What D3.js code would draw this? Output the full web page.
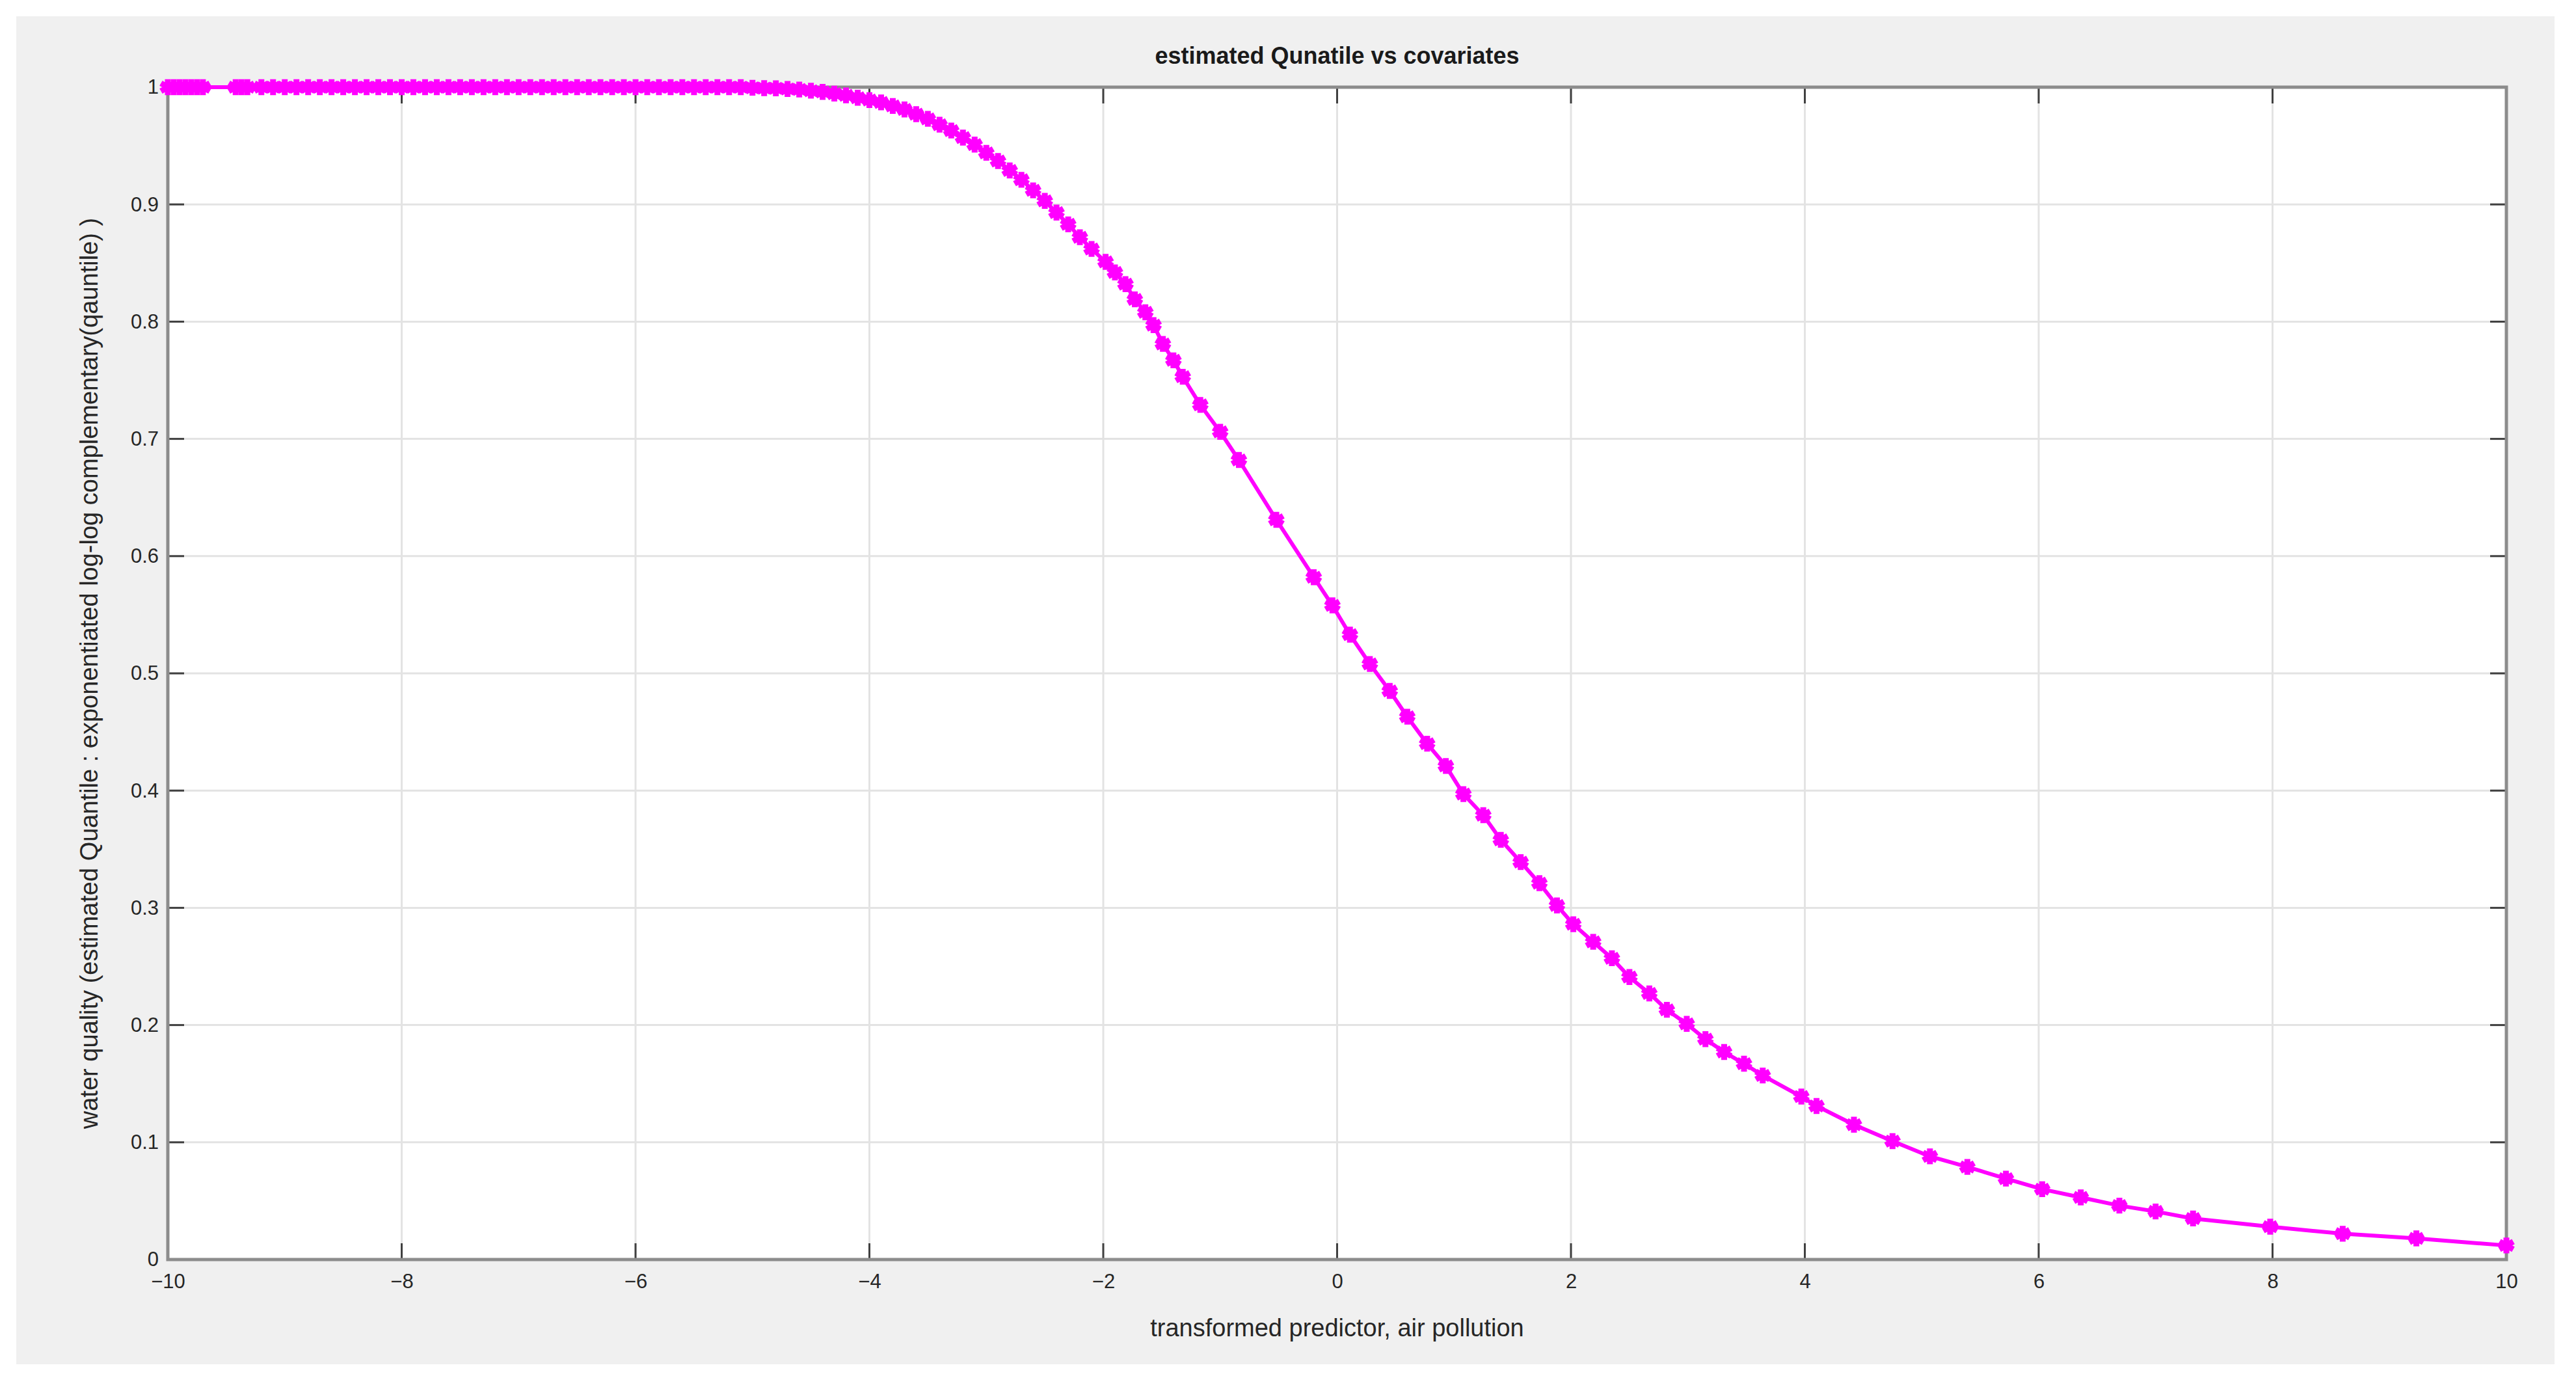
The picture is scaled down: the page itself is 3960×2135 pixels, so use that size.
<!DOCTYPE html>
<html><head><meta charset="utf-8">
<script src="https://cdn.jsdelivr.net/npm/d3@7"></script>
<style>body{margin:0;background:#fff}</style></head>
<body><svg id="c" width="3960" height="2135"></svg>
<script>
const xTicks=[-10,-8,-6,-4,-2,0,2,4,6,8,10];
const yTicks=[0,0.1,0.2,0.3,0.4,0.5,0.6,0.7,0.8,0.9,1];
const xFlat=[-10,-9.95,-9.9,-9.85,-9.8,-9.75,-9.7,-9.42,-9.37,-9.32,-9.2,-9.1,-9,-8.9,-8.8,-8.7,-8.6,-8.5,-8.4,-8.3,-8.2,-8.1,-8,-7.9,-7.8,-7.7,-7.6,-7.5,-7.4,-7.3,-7.2,-7.1,-7,-6.9,-6.8,-6.7,-6.6,-6.5,-6.4,-6.3,-6.2,-6.1,-6,-5.9,-5.8,-5.7,-5.6,-5.5,-5.4,-5.3,-5.2,-5.1];
const yFlat=xFlat.map(()=>1);
const xCurve=[-5,-4.9,-4.8,-4.7,-4.6,-4.5,-4.4,-4.3,-4.2,-4.1,-4,-3.9,-3.8,-3.7,-3.6,-3.5,-3.4,-3.3,-3.2,-3.1,-3,-2.9,-2.8,-2.7,-2.6,-2.5,-2.4,-2.3,-2.2,-2.1,-1.98,-1.9,-1.81,-1.73,-1.64,-1.57,-1.49,-1.4,-1.32,-1.17,-1.0,-0.84,-0.52,-0.2,-0.04,0.11,0.28,0.45,0.6,0.77,0.93,1.08,1.25,1.4,1.57,1.73,1.88,2.02,2.19,2.35,2.5,2.67,2.82,2.99,3.15,3.31,3.48,3.64,3.97,4.1,4.42,4.75,5.07,5.39,5.72,6.03,6.36,6.69,7.0,7.32,7.98,8.6,9.23,10];
const yCurve=[0.9995,0.9992,0.999,0.9985,0.998,0.997,0.996,0.9945,0.993,0.991,0.989,0.987,0.984,0.981,0.977,0.973,0.968,0.963,0.957,0.951,0.944,0.937,0.929,0.921,0.912,0.903,0.893,0.883,0.872,0.862,0.851,0.842,0.832,0.819,0.808,0.797,0.781,0.767,0.753,0.729,0.706,0.682,0.631,0.582,0.558,0.533,0.508,0.485,0.463,0.44,0.421,0.397,0.379,0.358,0.339,0.321,0.302,0.286,0.271,0.257,0.241,0.227,0.213,0.201,0.188,0.177,0.167,0.157,0.139,0.131,0.115,0.101,0.088,0.079,0.069,0.060,0.053,0.046,0.041,0.035,0.028,0.022,0.018,0.012];
const xs=xFlat.concat(xCurve), ys=yFlat.concat(yCurve);
const data=xs.map((x,i)=>({x,y:ys[i]}));

const svg=d3.select('#c');
const L=258,R=3853,T=134,B=1936;
svg.append('rect').attr('x',25).attr('y',25).attr('width',3902).attr('height',2072).attr('fill','#f0f0f0');
svg.append('rect').attr('x',L).attr('y',T).attr('width',R-L).attr('height',B-T).attr('fill','#fff');
const x=d3.scaleLinear().domain([-10,10]).range([L,R]);
const y=d3.scaleLinear().domain([0,1]).range([B,T]);
const g=svg.append('g');
xTicks.forEach(t=>g.append('line').attr('x1',x(t)).attr('x2',x(t)).attr('y1',T).attr('y2',B).attr('stroke','#e3e3e3').attr('stroke-width',3));
yTicks.forEach(t=>g.append('line').attr('y1',y(t)).attr('y2',y(t)).attr('x1',L).attr('x2',R).attr('stroke','#e3e3e3').attr('stroke-width',3));
const ff='Liberation Sans, Arial, sans-serif';
const ax=svg.append('g').attr('transform',`translate(0,${B})`).call(d3.axisBottom(x).tickValues(xTicks).tickSize(0).tickPadding(22).tickFormat(d3.format('d')));
const ay=svg.append('g').attr('transform',`translate(${L},0)`).call(d3.axisLeft(y).tickValues(yTicks).tickSize(0).tickPadding(14).tickFormat(d=>d===0||d===1?String(d):d3.format('.1f')(d)));
[ax,ay].forEach(a=>{a.select('.domain').remove();a.selectAll('text').attr('font-family',ff).attr('font-size',31).attr('fill','#262626');});
// inward ticks
const tl=25;
xTicks.forEach(t=>{g.append('line').attr('x1',x(t)).attr('x2',x(t)).attr('y1',B).attr('y2',B-tl).attr('stroke','#404040').attr('stroke-width',3);
 g.append('line').attr('x1',x(t)).attr('x2',x(t)).attr('y1',T).attr('y2',T+tl).attr('stroke','#404040').attr('stroke-width',3);});
yTicks.forEach(t=>{g.append('line').attr('y1',y(t)).attr('y2',y(t)).attr('x1',L).attr('x2',L+tl).attr('stroke','#404040').attr('stroke-width',3);
 g.append('line').attr('y1',y(t)).attr('y2',y(t)).attr('x1',R).attr('x2',R-tl).attr('stroke','#404040').attr('stroke-width',3);});
svg.append('rect').attr('x',L).attr('y',T).attr('width',R-L).attr('height',B-T).attr('fill','none').attr('stroke','#8c8c8c').attr('stroke-width',5);
// line + markers
svg.append('path').datum(data).attr('d',d3.line().x(d=>x(d.x)).y(d=>y(d.y))).attr('fill','none').attr('stroke','#ff00ff').attr('stroke-width',6);
const sym=d3.symbol().type(d3.symbolAsterisk).size(420);
svg.append('g').selectAll('path').data(data).join('path').attr('transform',d=>`translate(${x(d.x)},${y(d.y)})`).attr('d',sym).attr('fill','none').attr('stroke','#ff00ff').attr('stroke-width',9);
svg.append('text').attr('x',(L+R)/2).attr('y',98).attr('text-anchor','middle').attr('font-family',ff).attr('font-weight','bold').attr('font-size',36).attr('fill','#1a1a1a').text('estimated Qunatile vs covariates');
svg.append('text').attr('x',(L+R)/2).attr('y',2054).attr('text-anchor','middle').attr('font-family',ff).attr('font-size',38).attr('fill','#262626').text('transformed predictor, air pollution');
svg.append('text').attr('transform',`translate(150,${(T+B)/2}) rotate(-90)`).attr('text-anchor','middle').attr('font-family',ff).attr('font-size',38).attr('fill','#262626').text('water quality (estimated Quantile : exponentiated log-log complementary(qauntile) )');
</script></body></html>
